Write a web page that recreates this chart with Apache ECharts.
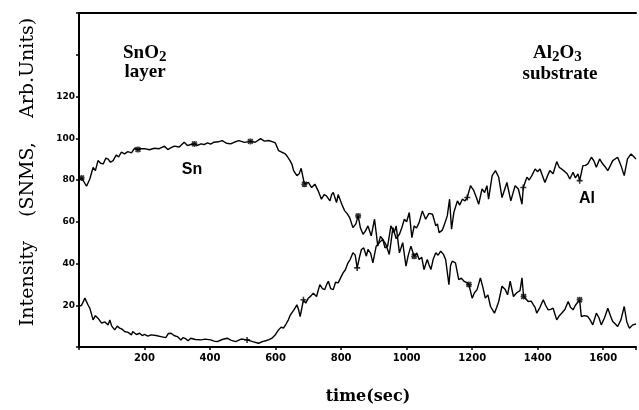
<!DOCTYPE html>
<html>
<head>
<meta charset="utf-8">
<script src="https://cdn.jsdelivr.net/npm/echarts@6/dist/echarts.min.js"></script>
<style>
  html, body { margin: 0; padding: 0; background: #fff; }
  #chart { width: 639px; height: 410px; }
</style>
</head>
<body>
<div id="chart"></div>
<script>
// x ticks (sec) and y ticks shown with labels
var xTicks = [200, 400, 600, 800, 1000, 1200, 1400, 1600];
var yTicks = [20, 40, 60, 80, 100, 120];

// Sn signal: [time, intensity]
var snData = [
  [0,80],[8,81],[23,77],[33,80.5],[43,86],[50,84.5],[58,89.3],[66,88],[74,87.7],[82,90.5],[89,90],[96,88.5],[104,89.3],[114,92],[121,91],
  [129,93.3],[139,92.5],[149,93.6],[160,93],[170,95.2],[180,94.6],[190,95],[200,95],[215,94.5],[230,95.2],[245,95],[261,96.2],
  [271,94.6],[281,95.5],[291,96.2],[306,95.8],[321,98.1],[331,96.5],[341,97],[352,97.3],[362,96.6],[372,97.3],[382,97],[392,97.8],
  [402,97.2],[412,98.1],[425,98.3],[437,98.9],[450,97.6],[463,97.3],[475,98.2],[488,98.9],[505,98],[523,98.5],[538,98.1],
  [554,99.8],[566,98.6],[579,98.9],[592,98.3],[599,97.8],[609,94.1],[619,93.3],[627,92.8],[634,91.7],[644,89.3],[650,87.5],[655,84.5],
  [665,82.1],[672,83],[678,85.6],[688,78],[700,78.9],[710,76.4],[720,78],[730,74.8],[740,70.8],[748,73],[755,72.4],
  [766,70],[771,73],[776,74],[786,69.2],[791,73],[796,72.4],[803,68],[811,65.2],[818,64],[826,62],[836,57.2],[845,59],[852,62.8],
  [859,57],[867,54],[874,55.5],[882,58],[892,53.2],[902,61.2],[912,48.3],[920,53],[927,51.6],[934,47.5],[942,48.3],[952,58],
  [962,54.8],[968,58],[978,45.1],[988,50],[998,38.7],[1005,44],[1013,48.3],[1023,43.5],[1031,45],[1038,41.9],[1046,43],[1053,37.1],
  [1063,41.9],[1068,39.5],[1074,37.1],[1081,42],[1089,45.1],[1096,44],[1104,45.9],[1112,44.5],[1119,41.9],[1129,29.9],[1134,39],
  [1139,41.1],[1149,40.3],[1159,32.3],[1167,33],[1175,31.5],[1182,31],[1190,29.9],[1200,23.4],[1207,26],[1215,27.5],[1225,33.1],
  [1232,29],[1240,23.4],[1248,25],[1256,19.4],[1262,20],[1268,16.2],[1275,19],[1281,21.8],[1291,29.1],[1301,27.5],[1308,25],
  [1316,31.5],[1326,24.2],[1336,26],[1346,27],[1352,33.1],[1357,24.2],[1364,23],[1371,21.8],[1380,22],[1387,20.2],[1392,19],
  [1397,16.2],[1407,19],[1417,22.6],[1424,20],[1432,17.8],[1440,18],[1447,18.6],[1458,13],[1466,15],[1473,16.2],[1483,18],
  [1493,21.8],[1500,19],[1508,17.8],[1515,20],[1528,22.6],[1533,14.6],[1543,15],[1553,14.6],[1560,13],[1568,10.6],[1579,16.2],
  [1587,14],[1594,10.6],[1604,14],[1614,18.6],[1622,15],[1629,12.2],[1637,11],[1644,9.8],[1654,13],[1664,19.4],[1672,12],
  [1680,9],[1690,10.6],[1700,11]
];

// Al signal: [time, intensity]
var alData = [
  [0,19.5],[8,20],[18,23.4],[28,20],[33,18.6],[43,13],[50,15],[58,13.8],[69,11.4],[79,12],[89,10.6],[94,13],[100,10],[109,8.2],
  [117,10],[124,9],[132,8.5],[139,7.4],[150,7],[160,5.8],[164,7.4],[175,6],[185,6.6],[193,5.5],[200,6],[210,5.2],[220,5.8],
  [235,5.5],[250,5],[265,4.5],[273,6.5],[281,6.6],[290,5.5],[300,5],[311,3.4],[318,4.5],[325,4],[333,3],[341,4.2],[355,3.6],
  [372,3.4],[385,3.8],[402,3.4],[412,2.8],[422,2.6],[437,3.6],[452,4.2],[465,3.2],[478,2.6],[495,3.8],[513,3.4],[530,2.6],
  [548,1.8],[560,2.6],[570,3],[580,3.5],[589,4.2],[600,6],[609,8.2],[617,9.5],[624,9],[632,11],[639,13],[644,15],[649,16.2],
  [657,18],[665,20.2],[670,18],[675,14.6],[685,22.6],[692,21],[700,23.4],[708,24.5],[715,25.8],[725,24.2],[735,29.9],[743,28],
  [750,27.5],[756,30],[761,31.5],[768,28],[776,27.5],[783,31],[791,30.7],[798,33],[806,35.5],[813,37],[821,40.3],[828,42],
  [836,45.2],[843,44],[849,37.9],[856,43],[862,46.7],[869,47.5],[877,43.5],[882,46.7],[890,45],[897,40.3],[907,48.3],[917,50],
  [927,51.6],[937,49],[947,44.3],[952,50],[958,57.2],[968,52],[978,54],[985,57],[993,61.2],[1000,60],[1008,64.4],[1016,52.4],
  [1023,58],[1030,57],[1038,59.6],[1048,65.2],[1058,61.2],[1068,64],[1079,63.6],[1089,58],[1094,59],[1099,54.8],[1109,56],
  [1116,59],[1124,62.8],[1131,70.8],[1137,56.4],[1144,64.4],[1155,70],[1162,68],[1170,70.8],[1178,70],[1185,71.6],[1195,77.3],
  [1205,74.9],[1212,72],[1220,68.4],[1230,75.7],[1238,74],[1245,77.3],[1250,70.8],[1261,82.1],[1271,84.5],[1281,81.3],
  [1291,71.6],[1298,75],[1306,78.8],[1318,70],[1331,77.3],[1341,75.7],[1352,68.4],[1356,76.4],[1367,81.3],[1374,80],
  [1382,82.1],[1392,85.3],[1400,84],[1407,85.3],[1422,78.8],[1430,82],[1437,84.5],[1447,83],[1458,88.8],[1466,86],[1473,85.3],
  [1483,84],[1490,83],[1498,80.5],[1508,83.7],[1515,81],[1523,82.9],[1528,79.7],[1538,86.9],[1546,87],[1553,87.7],[1564,90.9],
  [1572,89],[1579,86.1],[1589,90.1],[1597,88],[1605,86.5],[1614,84.5],[1622,87],[1629,89.3],[1644,90.9],[1654,87],[1664,82.1],
  [1674,90.1],[1685,92.5],[1695,90.9],[1700,90]
];

// times where the small plot symbols sit on each curve
var snMarkTimes = [8, 180, 352, 523, 688, 852, 1023, 1190, 1357, 1528];
var alMarkTimes = [513, 685, 849, 1185, 1356, 1528];

function marksOn(data, times) {
  return times.map(function (t) {
    var best = data[0];
    data.forEach(function (p) { if (Math.abs(p[0] - t) < Math.abs(best[0] - t)) best = p; });
    return best;
  });
}

var chart = echarts.init(document.getElementById('chart'));

var option = {
  animation: false,
  backgroundColor: '#fff',
  grid: { left: 79, right: 0, top: 13, bottom: 63 },
  xAxis: [{
    type: 'value', min: 0, max: 1700, interval: 200,
    axisLine: { show: true, lineStyle: { color: '#000', width: 2 } },
    axisTick: { show: true, length: 3, lineStyle: { color: '#000', width: 1.5 } },
    splitLine: { show: false },
    axisLabel: {
      color: '#000', fontFamily: 'DejaVu Sans', fontWeight: 'bold', fontSize: 10, margin: 6,
      formatter: function (v) { return xTicks.indexOf(v) >= 0 ? String(v) : ''; }
    }
  }, {
    type: 'value', min: 0, max: 1700, position: 'top',
    axisLine: { show: true, lineStyle: { color: '#000', width: 2 } },
    axisTick: { show: false }, axisLabel: { show: false }, splitLine: { show: false }
  }],
  yAxis: {
    type: 'value', min: 0, max: 160, interval: 20,
    axisLine: { show: true, lineStyle: { color: '#000', width: 2 } },
    axisTick: { show: true, length: 3, lineStyle: { color: '#000', width: 1.5 } },
    splitLine: { show: false },
    axisLabel: {
      color: '#000', fontFamily: 'DejaVu Sans', fontWeight: 'bold', fontSize: 9, margin: 4,
      formatter: function (v) { return yTicks.indexOf(v) >= 0 ? String(v) : ''; }
    }
  },
  series: [{
    name: 'Sn', type: 'line', data: snData, showSymbol: false,
    lineStyle: { color: '#000', width: 1.4 }
  }, {
    name: 'Al', type: 'line', data: alData, showSymbol: false,
    lineStyle: { color: '#000', width: 1.4 }
  }, {
    type: 'scatter', data: marksOn(snData, snMarkTimes),
    symbol: 'path://M-4,-4L4,4M-4,4L4,-4M0,-5L0,5M-5,0L5,0', symbolSize: 6,
    itemStyle: { color: 'none', borderColor: '#000', borderWidth: 1.6 }
  }, {
    type: 'scatter', data: marksOn(alData, alMarkTimes),
    symbol: 'path://M0,-5L0,5M-4,0L4,0', symbolSize: 6,
    itemStyle: { color: 'none', borderColor: '#000', borderWidth: 1.6 }
  }],
  graphic: [{
    type: 'text', x: 28, y: 172, rotation: Math.PI / 2,
    style: {
      text: 'Intensity    (SNMS,    Arb.Units)', fill: '#000',
      font: '19px "DejaVu Serif"', align: 'center', verticalAlign: 'middle'
    }
  }, {
    type: 'text', x: 368, y: 397,
    style: {
      text: 'time(sec)', fill: '#000', font: 'bold 16px "DejaVu Serif"',
      align: 'center', verticalAlign: 'middle'
    }
  }, {
    type: 'text', x: 123, y: 42,
    style: {
      text: '{b|SnO}{s|2}', verticalAlign: 'top',
      rich: {
        b: { font: 'bold 19px "Liberation Serif"', fill: '#000' },
        s: { font: 'bold 15px "Liberation Serif"', fill: '#000', padding: [8, 0, 0, 0] }
      }
    }
  }, {
    type: 'text', x: 145, y: 72,
    style: { text: 'layer', fill: '#000', font: 'bold 19px "Liberation Serif"', align: 'center', verticalAlign: 'middle' }
  }, {
    type: 'text', x: 533, y: 42,
    style: {
      text: '{b|Al}{s|2}{b|O}{s|3}', verticalAlign: 'top',
      rich: {
        b: { font: 'bold 19px "Liberation Serif"', fill: '#000' },
        s: { font: 'bold 15px "Liberation Serif"', fill: '#000', padding: [8, 0, 0, 0] }
      }
    }
  }, {
    type: 'text', x: 560, y: 74,
    style: { text: 'substrate', fill: '#000', font: 'bold 19px "Liberation Serif"', align: 'center', verticalAlign: 'middle' }
  }, {
    type: 'text', x: 192, y: 170,
    style: { text: 'Sn', fill: '#000', font: 'bold 16px "Liberation Sans"', align: 'center', verticalAlign: 'middle' }
  }, {
    type: 'text', x: 587, y: 199,
    style: { text: 'Al', fill: '#000', font: 'bold 16px "Liberation Sans"', align: 'center', verticalAlign: 'middle' }
  }]
};

chart.setOption(option);
</script>
</body>
</html>
